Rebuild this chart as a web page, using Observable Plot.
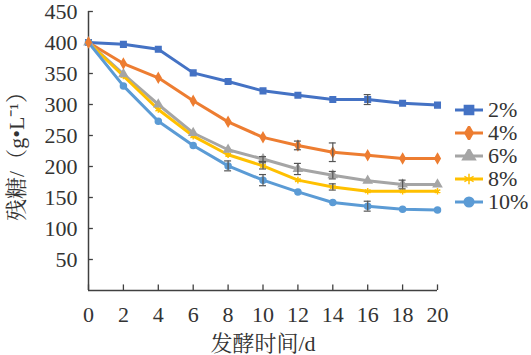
<!DOCTYPE html>
<html><head><meta charset="utf-8">
<script src="https://cdn.jsdelivr.net/npm/d3@7"></script>
<script src="https://cdn.jsdelivr.net/npm/@observablehq/plot@0.6"></script>
<style>
html,body{margin:0;padding:0;background:#fff;font-family:'Liberation Serif',serif;}
#wrap{position:relative;width:531px;height:355px;}
#wrap svg text{font-family:'Liberation Serif','Noto Serif CJK SC',serif !important;}
#legend{position:absolute;left:455px;top:98px;font-family:'Liberation Serif',serif;font-size:22px;color:#333;}
.row{display:flex;align-items:center;height:23px;}
.row svg{margin-right:5px;}
</style></head>
<body><div id="wrap"></div>
<script>
const days = [0,2,4,6,8,10,12,14,16,18,20];
const seriesNames = ["2%","4%","6%","8%","10%"];
const colors = ["#4472C4","#ED7D31","#A5A5A5","#FFC000","#5B9BD5"];
const s2  = [400,397,389,351,337,322,315,308,308,302,299];
const s4  = [400,366,343,306,272,247,234,223,218,213,213];
const s6  = [400,349,300,254,227,212,196,186,177,171,171];
const s8  = [400,346,292,249,219,201,178,167,160,160,160];
const s10 = [400,330,273,234,201,178,159,142,136,131,130];
const e2  = [0,0,0,0,0,0,0,0,8,0,0];
const e4  = [0,0,0,0,0,0,7,15,0,0,0];
const e6  = [0,0,0,0,0,4,9,6,0,7,0];
const e8  = [0,0,0,0,0,5,0,5,0,0,0];
const e10 = [0,0,0,0,8,9,0,0,8,0,0];
const yTicks = [50,100,150,200,250,300,350,400,450];
const xTicks = [0,2,4,6,8,10,12,14,16,18,20];

const values = [s2,s4,s6,s8,s10];
const errs = [e2,e4,e6,e8,e10];
const symbols = ["square","diamond","triangle","asterisk","circle"];
const rows = [];
seriesNames.forEach((s,i)=>days.forEach((d,j)=>rows.push({series:s,day:d,v:values[i][j],e:errs[i][j]})));
const errRows = rows.filter(r=>r.e>0);
const axisColor = "#404040";
const serifFont = "'Liberation Serif','Noto Serif CJK SC',serif";

const chart = Plot.plot({
  width:531, height:355,
  marginLeft:88, marginRight:94, marginTop:11, marginBottom:65,
  style:{fontFamily:serifFont, fontSize:"22px", color:"#333", background:"#fff"},
  x:{domain:[0,20]},
  y:{domain:[0,450]},
  color:{domain:seriesNames, range:colors},
  symbol:{domain:seriesNames, range:symbols},
  marks:[
    Plot.axisX({ticks:xTicks, tickSize:0, tickPadding:16, fontSize:22, label:"发酵时间/d", labelAnchor:"center", labelOffset:60, labelArrow:"none"}),
    Plot.axisY({ticks:yTicks, tickSize:0, tickPadding:11, fontSize:22, label:"残糖/（g•L⁻¹）", labelAnchor:"center", labelOffset:80, labelArrow:"none"}),
    Plot.ruleY(yTicks, {y:d=>d, x1:0, x2:0.28, stroke:axisColor, strokeWidth:1.3}),
    Plot.ruleX(xTicks, {x:d=>d, y1:0, y2:9, stroke:axisColor, strokeWidth:1.3}),
    Plot.ruleX([0], {stroke:axisColor, strokeWidth:1.5}),
    Plot.ruleY([0], {stroke:axisColor, strokeWidth:1.5}),
    Plot.line(rows, {x:"day", y:"v", z:"series", stroke:"series", strokeWidth:3}),
    Plot.dot(rows, {x:"day", y:"v", symbol:"series", fill:"series", stroke:"series", strokeWidth:1.5,
      r:d=>d.series==="2%"?5.2:d.series==="4%"?4.4:d.series==="6%"?4.8:d.series==="8%"?5:4.8}),
    Plot.ruleX(errRows, {x:"day", y1:d=>d.v-d.e, y2:d=>d.v+d.e, stroke:"#555", strokeWidth:1.2}),
    Plot.ruleY(errRows, {y:d=>d.v-d.e, x1:d=>d.day-0.2, x2:d=>d.day+0.2, stroke:"#555", strokeWidth:1.2}),
    Plot.ruleY(errRows, {y:d=>d.v+d.e, x1:d=>d.day-0.2, x2:d=>d.day+0.2, stroke:"#555", strokeWidth:1.2})
  ]
});
chart.querySelectorAll("text").forEach(t=>t.setAttribute("font-family", serifFont));
const wrap = document.getElementById("wrap");
wrap.appendChild(chart);

// legend
const leg = document.createElement("div");
leg.id = "legend";
const d3syms = [d3.symbolSquare,d3.symbolDiamond,d3.symbolTriangle,d3.symbolAsterisk,d3.symbolCircle];
const sizes = [5.2,4.4,4.8,5,4.8];
seriesNames.forEach((s,i)=>{
  const row = document.createElement("div");
  row.className = "row";
  const svg = d3.create("svg").attr("width",28).attr("height",14);
  svg.append("line").attr("x1",0).attr("x2",28).attr("y1",7).attr("y2",7).attr("stroke",colors[i]).attr("stroke-width",3);
  svg.append("path").attr("transform","translate(14,7)").attr("d",d3.symbol(d3syms[i], Math.PI*sizes[i]*sizes[i])())
    .attr("fill",colors[i]).attr("stroke",colors[i]).attr("stroke-width",1.5);
  row.appendChild(svg.node());
  const t = document.createElement("span");
  t.textContent = s;
  t.style.fontFamily = "'Liberation Serif',serif";
  row.appendChild(t);
  leg.appendChild(row);
});
wrap.appendChild(leg);
</script>
</body></html>
